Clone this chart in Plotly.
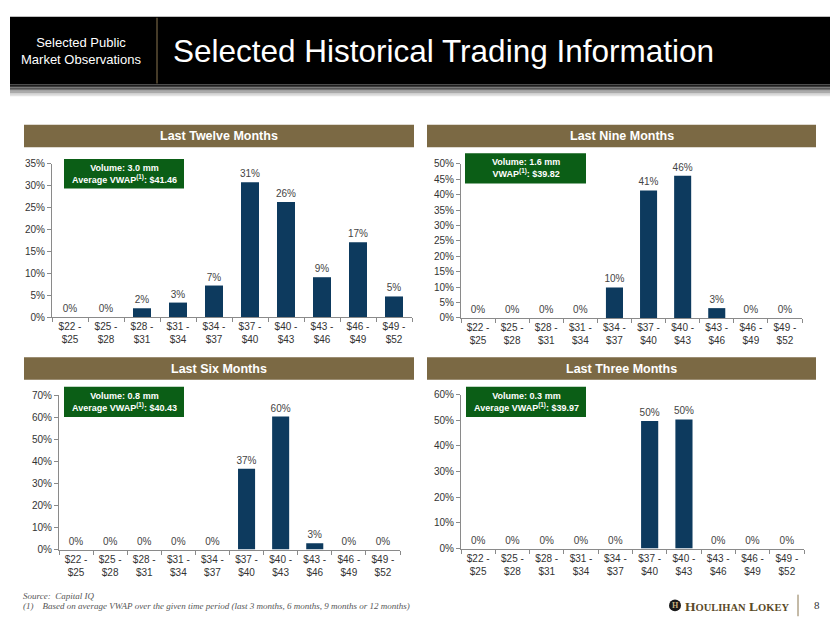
import plotly.graph_objects as go

W, H = 840, 635

bins = ["$22 -<br>$25", "$25 -<br>$28", "$28 -<br>$31", "$31 -<br>$34", "$34 -<br>$37",
        "$37 -<br>$40", "$40 -<br>$43", "$43 -<br>$46", "$46 -<br>$49", "$49 -<br>$52"]

ltm = [0, 0, 2.0, 3.3, 7.2, 30.8, 26.3, 9.1, 17.1, 4.7]
l9m = [0, 0, 0, 0, 9.9, 41.4, 46.2, 3.2, 0, 0]
l6m = [0, 0, 0, 0, 0, 36.7, 60.4, 2.9, 0, 0]
l3m = [0, 0, 0, 0, 0, 49.7, 50.3, 0, 0, 0]

titles = ["Last Twelve Months", "Last Nine Months", "Last Six Months", "Last Three Months"]
boxes = ["Volume: 3.0 mm<br>Average VWAP<sup>(1)</sup>: $41.46",
         "Volume: 1.6 mm<br>VWAP<sup>(1)</sup>: $39.82",
         "Volume: 0.8 mm<br>Average VWAP<sup>(1)</sup>: $40.43",
         "Volume: 0.3 mm<br>Average VWAP<sup>(1)</sup>: $39.97"]
ymax = [35, 50, 70, 60]
ystep = [5, 5, 10, 10]

BAR = "#0d3a5e"
GREEN = "#0b5e16"
BROWN = "#7b6944"
AX = "#8a8a8a"
TXT = "#333333"
SANS = "Liberation Sans, Arial, sans-serif"
SERIF = "Liberation Serif, Times New Roman, serif"

def px(x):
    return x / W

def py(y):
    return 1 - y / H

# panel geometry (pixels): x0, x1, y_zero, y_top
geo = [(52, 412, 317, 161), (461, 802, 318, 161), (59, 400, 554, 397), (461, 804, 553, 396)]
hdr = [(24, 414, 121, 144), (427, 816, 121, 144), (24, 414, 358, 381), (427, 816, 358, 381)]
box = [(64, 184, 156, 186), (465, 586, 150, 181), (64, 184, 388, 419), (466, 586, 388, 419)]

series = [ltm, l9m, l6m, l3m]

fig = go.Figure()
shapes = []
annotations = []

for i, vals in enumerate(series):
    n = "" if i == 0 else str(i + 1)
    fig.add_trace(go.Bar(
        x=bins, y=vals, xaxis="x" + n, yaxis="y" + n,
        marker=dict(color=BAR, line=dict(width=0)),
        texttemplate="%{y:.0f}%", textposition="outside", constraintext="none",
        textfont=dict(family=SANS, size=10, color="#444444"),
        cliponaxis=False, showlegend=False, hoverinfo="skip",
    ))
    x0, x1, yz, yt = geo[i]
    fig.update_layout(**{
        "xaxis" + n: dict(domain=[px(x0), px(x1)], anchor="y" + n, type="category",
                          showline=True, linecolor=AX, linewidth=1, ticks="outside",
                          tickson="boundaries", ticklen=4, tickcolor=AX, showgrid=False,
                          tickfont=dict(family=SANS, size=10, color=TXT),
                          fixedrange=True),
        "yaxis" + n: dict(domain=[py(yz), py(yt)], anchor="x" + n, range=[0, ymax[i]],
                          dtick=ystep[i], ticksuffix="%", showline=True, linecolor=AX,
                          linewidth=1, ticks="outside", ticklen=4, tickcolor=AX,
                          showgrid=False, zeroline=False,
                          tickfont=dict(family=SANS, size=10, color=TXT),
                          fixedrange=True),
    })
    # brown panel header
    hx0, hx1, hy0, hy1 = hdr[i]
    shapes.append(dict(type="rect", xref="paper", yref="paper", x0=px(hx0), x1=px(hx1),
                       y0=py(hy1), y1=py(hy0), fillcolor=BROWN, line=dict(width=0), layer="below"))
    annotations.append(dict(text="<b>" + titles[i] + "</b>", xref="paper", yref="paper",
                            x=px((hx0 + hx1) / 2), y=py((hy0 + hy1) / 2), showarrow=False,
                            xanchor="center", yanchor="middle",
                            font=dict(family=SANS, size=12.5, color="white")))
    # green info box
    bx0, bx1, by0, by1 = box[i]
    shapes.append(dict(type="rect", xref="paper", yref="paper", x0=px(bx0), x1=px(bx1),
                       y0=py(by1), y1=py(by0), fillcolor=GREEN, line=dict(width=0)))
    annotations.append(dict(text="<b>" + boxes[i] + "</b>", xref="paper", yref="paper",
                            x=px((bx0 + bx1) / 2), y=py((by0 + by1) / 2), showarrow=False,
                            xanchor="center", yanchor="middle", align="center",
                            font=dict(family=SANS, size=9, color="white")))

# header band
shapes.append(dict(type="rect", xref="paper", yref="paper", x0=px(10), x1=px(830),
                   y0=py(80), y1=py(11), fillcolor="black", line=dict(width=0), layer="below"))
grad = ["#1e1e1e", "#3a3a3a", "#565656", "#727272", "#8e8e8e", "#aaaaaa", "#c6c6c6", "#e2e2e2"]
for k, c in enumerate(grad):
    shapes.append(dict(type="rect", xref="paper", yref="paper", x0=px(10), x1=px(830),
                       y0=py(81.5 + 1.5 * k), y1=py(80 + 1.5 * k), fillcolor=c,
                       line=dict(width=0), layer="below"))
shapes.append(dict(type="line", xref="paper", yref="paper", x0=px(157), x1=px(157),
                   y0=py(79), y1=py(12), line=dict(color="#8a7650", width=1)))
annotations.append(dict(text="Selected Public<br>Market Observations", xref="paper", yref="paper",
                        x=px(81), y=py(46), showarrow=False, xanchor="center", yanchor="middle",
                        align="center",
                        font=dict(family=SANS, size=13, color="white")))
annotations.append(dict(text="Selected Historical Trading Information", xref="paper", yref="paper",
                        x=px(171), y=py(46), showarrow=False, xanchor="left", yanchor="middle",
                        font=dict(family=SANS, size=31.5, color="white")))

# footer
annotations.append(dict(text="<i>Source:  Capital IQ</i>", xref="paper", yref="paper",
                        x=px(21), y=py(601), showarrow=False, xanchor="left", yanchor="middle",
                        font=dict(family=SERIF, size=9, color="#555555")))
annotations.append(dict(text="<i>(1)    Based on average VWAP over the given time period (last 3 months, 6 months, 9 months or 12 months)</i>",
                        xref="paper", yref="paper", x=px(21), y=py(612), showarrow=False,
                        xanchor="left", yanchor="middle",
                        font=dict(family=SERIF, size=9, color="#555555")))
shapes.append(dict(type="circle", xref="paper", yref="paper", x0=px(669), x1=px(681),
                   y0=py(617), y1=py(605), fillcolor="#1a1a1a", line=dict(width=0)))
annotations.append(dict(text="<b>H</b>", xref="paper", yref="paper", x=px(675), y=py(611),
                        showarrow=False, xanchor="center", yanchor="middle",
                        font=dict(family=SERIF, size=8, color="#c8b27a")))
annotations.append(dict(text="<b>H<span style='font-size:10.5px'>OULIHAN</span> L<span style='font-size:10.5px'>OKEY</span></b>",
                        xref="paper", yref="paper", x=px(683), y=py(612), showarrow=False,
                        xanchor="left", yanchor="middle",
                        font=dict(family=SERIF, size=13.5, color="#5a4a28")))
shapes.append(dict(type="line", xref="paper", yref="paper", x0=px(798), x1=px(798),
                   y0=py(622), y1=py(600), line=dict(color="#8a7650", width=1)))
annotations.append(dict(text="8", xref="paper", yref="paper", x=px(817), y=py(611),
                        showarrow=False, xanchor="center", yanchor="middle",
                        font=dict(family=SERIF, size=11, color="#333333")))

fig.update_layout(width=W, height=H, margin=dict(l=0, r=0, t=0, b=0),
                  paper_bgcolor="white", plot_bgcolor="white", bargap=0.5,
                  shapes=shapes, annotations=annotations)

fig.write_html("out.html", config={"displayModeBar": False},
               post_script="document.body.style.margin='0';document.body.style.overflow='hidden';")
